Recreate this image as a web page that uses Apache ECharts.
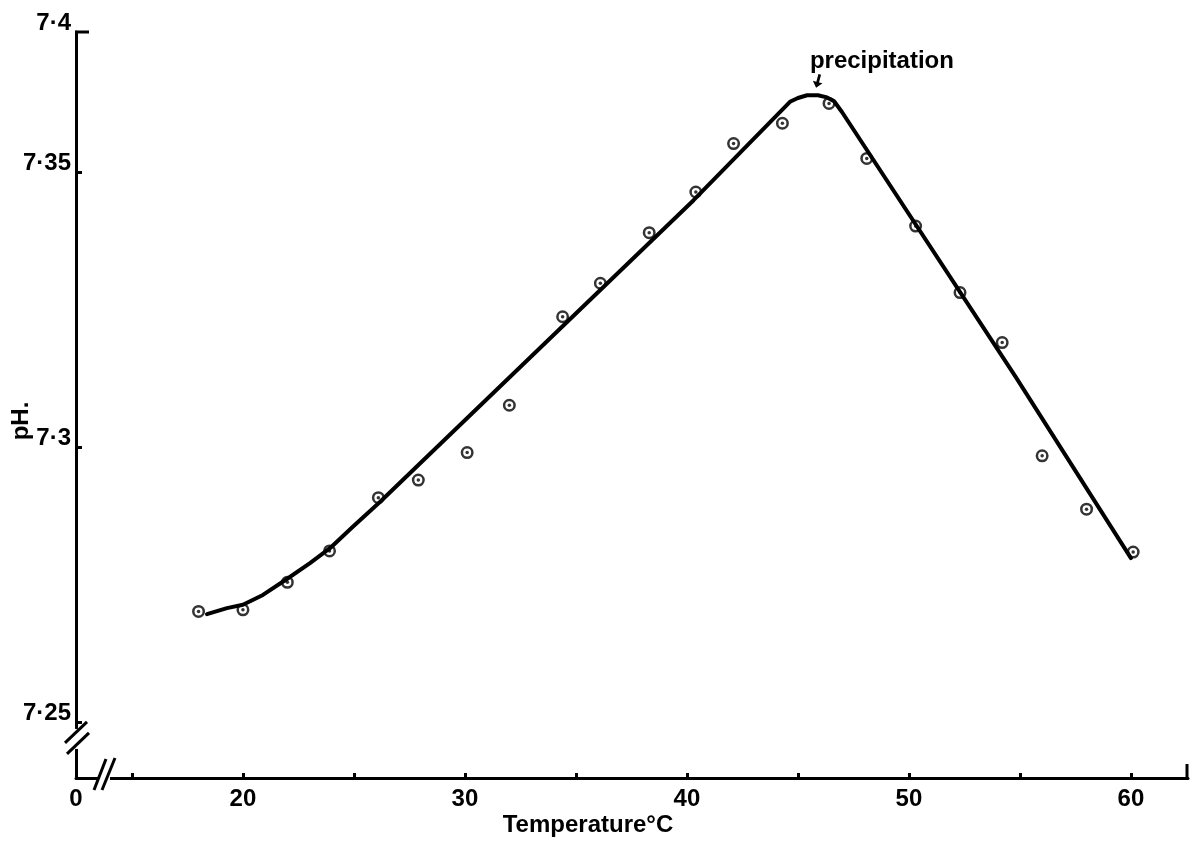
<!DOCTYPE html>
<html>
<head>
<meta charset="utf-8">
<script src="https://cdn.jsdelivr.net/npm/echarts@6/dist/echarts.min.js"></script>
<style>
html,body{margin:0;padding:0;background:#fff;}
#c{width:1193px;height:842px;}
</style>
</head>
<body>
<div id="c"></div>
<script>
// Measured points (temperature °C, pH)
const tempC = [18.0, 20.0, 22.0, 23.9, 26.1, 27.9, 30.1, 32.0, 34.4, 36.1, 38.3, 40.4, 42.1, 44.3, 46.4, 48.1, 50.3, 52.3, 54.2, 56.0, 58.0, 60.1];
const pH    = [7.2701, 7.2704, 7.2754, 7.2811, 7.2908, 7.2940, 7.2990, 7.3076, 7.3237, 7.3298, 7.3390, 7.3464, 7.3552, 7.3589, 7.3625, 7.3525, 7.3402, 7.3281, 7.3190, 7.2984, 7.2887, 7.2809];

// Hand-drawn fitted curve, vertices
const curveTemp = [18.38, 19.28, 20.0, 20.9, 21.98, 23.02, 23.92, 24.95, 26.17, 40.3, 44.64, 45.0, 45.41, 45.9, 46.31, 46.63, 46.99, 54.8, 60.0];
const curvePH   = [7.2696, 7.2707, 7.2713, 7.2731, 7.2760, 7.2789, 7.2816, 7.2855, 7.2900, 7.3449, 7.3628, 7.3635, 7.3640, 7.3640, 7.3636, 7.3629, 7.3609, 7.3128, 7.2798];

// Axis ticks and labels
const yTickValues = [7.25, 7.3, 7.35];
const yTickLabels = ['7·25', '7·3', '7·35'];
const yTopLabel = '7·4';
const xTickValues = [15, 20, 25, 30, 35, 40, 45, 50, 55, 60];
const xLabelValues = [20, 30, 40, 50, 60];
const xLabelTexts = ['20', '30', '40', '50', '60'];
const xOriginLabel = '0';
const xAxisTitle = 'Temperature°C';
const yAxisTitle = 'pH.';
const noteText = 'precipitation';
const noteAt = [45.9, 7.3653];

const X_MIN = 12.48, X_MAX = 62.57;
const Y_MIN = 7.2398, Y_MAX = 7.3755;

const FONT = '"Liberation Sans", Arial, sans-serif';
const near = (a, b) => Math.abs(a - b) < 1e-6;

const chart = echarts.init(document.getElementById('c'), null, {renderer: 'canvas'});

const option = {
  animation: false,
  backgroundColor: '#fff',
  grid: {left: 76, right: 5, top: 32, bottom: 64, containLabel: false},
  xAxis: {
    type: 'value', min: X_MIN, max: X_MAX,
    splitLine: {show: false},
    axisLine: {show: true, onZero: false, lineStyle: {color: '#000', width: 3}},
    axisTick: {show: true, inside: true, length: 5, lineStyle: {color: '#000', width: 3},
               customValues: xTickValues},
    axisLabel: {
      show: true, margin: 9, color: '#000', fontFamily: FONT, fontWeight: 'bold', fontSize: 24,
      customValues: [X_MIN].concat(xLabelValues),
      formatter: v => {
        if (near(v, X_MIN)) return xOriginLabel;
        const i = xLabelValues.findIndex(t => near(t, v));
        return i >= 0 ? xLabelTexts[i] : '';
      }
    }
  },
  yAxis: {
    type: 'value', min: Y_MIN, max: Y_MAX,
    splitLine: {show: false},
    axisLine: {show: true, onZero: false, lineStyle: {color: '#000', width: 3}},
    axisTick: {show: true, inside: true, length: 6, lineStyle: {color: '#000', width: 3},
               customValues: yTickValues},
    axisLabel: {
      show: true, margin: 5, color: '#000', fontFamily: FONT, fontWeight: 'bold', fontSize: 24,
      verticalAlign: 'bottom', lineHeight: 18,
      customValues: yTickValues.concat([Y_MAX]),
      formatter: v => {
        if (near(v, Y_MAX)) return yTopLabel;
        const i = yTickValues.findIndex(t => near(t, v));
        return i >= 0 ? yTickLabels[i] : '';
      }
    }
  },
  series: [
    {
      type: 'scatter', name: 'rings', z: 2,
      data: tempC.map((t, i) => [t, pH[i]]),
      symbol: 'circle', symbolSize: 10.5,
      itemStyle: {color: 'rgba(0,0,0,0)', borderColor: '#000', borderWidth: 2.5},
      emphasis: {disabled: true}, silent: true
    },
    {
      type: 'scatter', name: 'dots', z: 2,
      data: tempC.map((t, i) => [t, pH[i]]),
      symbol: 'circle', symbolSize: 3.5,
      itemStyle: {color: '#000'},
      emphasis: {disabled: true}, silent: true
    },
    {
      type: 'line', name: 'curve', z: 3,
      data: curveTemp.map((t, i) => [t, curvePH[i]]),
      symbol: 'none', smooth: false,
      lineStyle: {color: '#000', width: 4, join: 'round', cap: 'round'},
      emphasis: {disabled: true}, silent: true,
      markPoint: {
        silent: true,
        symbol: 'path://M4,0 L7,0 L7,8 L11,8 L5.5,14 L0,8 L4,8 Z',
        symbolSize: [10, 14],
        symbolRotate: -15,
        symbolOffset: [0, '-50%'],
        itemStyle: {color: '#000'},
        data: [{coord: noteAt, name: noteText}],
        label: {
          show: true, formatter: noteText, position: 'top', align: 'left',
          offset: [-8, 2], distance: 2,
          color: '#000', fontFamily: FONT, fontWeight: 'bold', fontSize: 24
        }
      }
    }
  ]
};
chart.setOption(option);

// Axis-break marks, end ticks and axis titles
const orgPx = chart.convertToPixel({gridIndex: 0}, [X_MIN, Y_MIN]);
const t25Px = chart.convertToPixel({gridIndex: 0}, [X_MIN, yTickValues[0]]);
const topPx = chart.convertToPixel({gridIndex: 0}, [X_MIN, Y_MAX]);
const endPx = chart.convertToPixel({gridIndex: 0}, [X_MAX, Y_MIN]);
const ox = orgPx[0], oy = orgPx[1], ty = t25Px[1];
const ls = {stroke: '#000', lineWidth: 3};
chart.setOption({
  graphic: [
    {type: 'rect', shape: {x: ox - 4, y: ty + 7, width: 8, height: 20}, style: {fill: '#fff'}, z: 10},
    {type: 'line', shape: {x1: ox - 11, y1: ty + 21, x2: ox + 11, y2: ty}, style: ls, z: 11},
    {type: 'line', shape: {x1: ox - 9, y1: ty + 32, x2: ox + 13, y2: ty + 11}, style: ls, z: 11},
    {type: 'rect', shape: {x: ox + 22, y: oy - 4, width: 12, height: 8}, style: {fill: '#fff'}, z: 10},
    {type: 'line', shape: {x1: ox + 18, y1: oy + 12, x2: ox + 30, y2: oy - 19}, style: ls, z: 11},
    {type: 'line', shape: {x1: ox + 26, y1: oy + 12, x2: ox + 39, y2: oy - 20}, style: ls, z: 11},
    {type: 'line', shape: {x1: topPx[0] - 1, y1: topPx[1], x2: topPx[0] + 13, y2: topPx[1]}, style: ls, z: 11},
    {type: 'line', shape: {x1: endPx[0] - 1, y1: endPx[1] + 1, x2: endPx[0] - 1, y2: endPx[1] - 14}, style: ls, z: 11},
    {type: 'text', x: 588, y: 825,
     style: {text: xAxisTitle, fill: '#000', font: 'bold 24px ' + FONT, align: 'center', verticalAlign: 'middle'}, z: 11},
    {type: 'text', x: 21, y: 421, rotation: Math.PI / 2,
     style: {text: yAxisTitle, fill: '#000', font: 'bold 24px ' + FONT, align: 'center', verticalAlign: 'middle'}, z: 11}
  ]
});
</script>
</body>
</html>
